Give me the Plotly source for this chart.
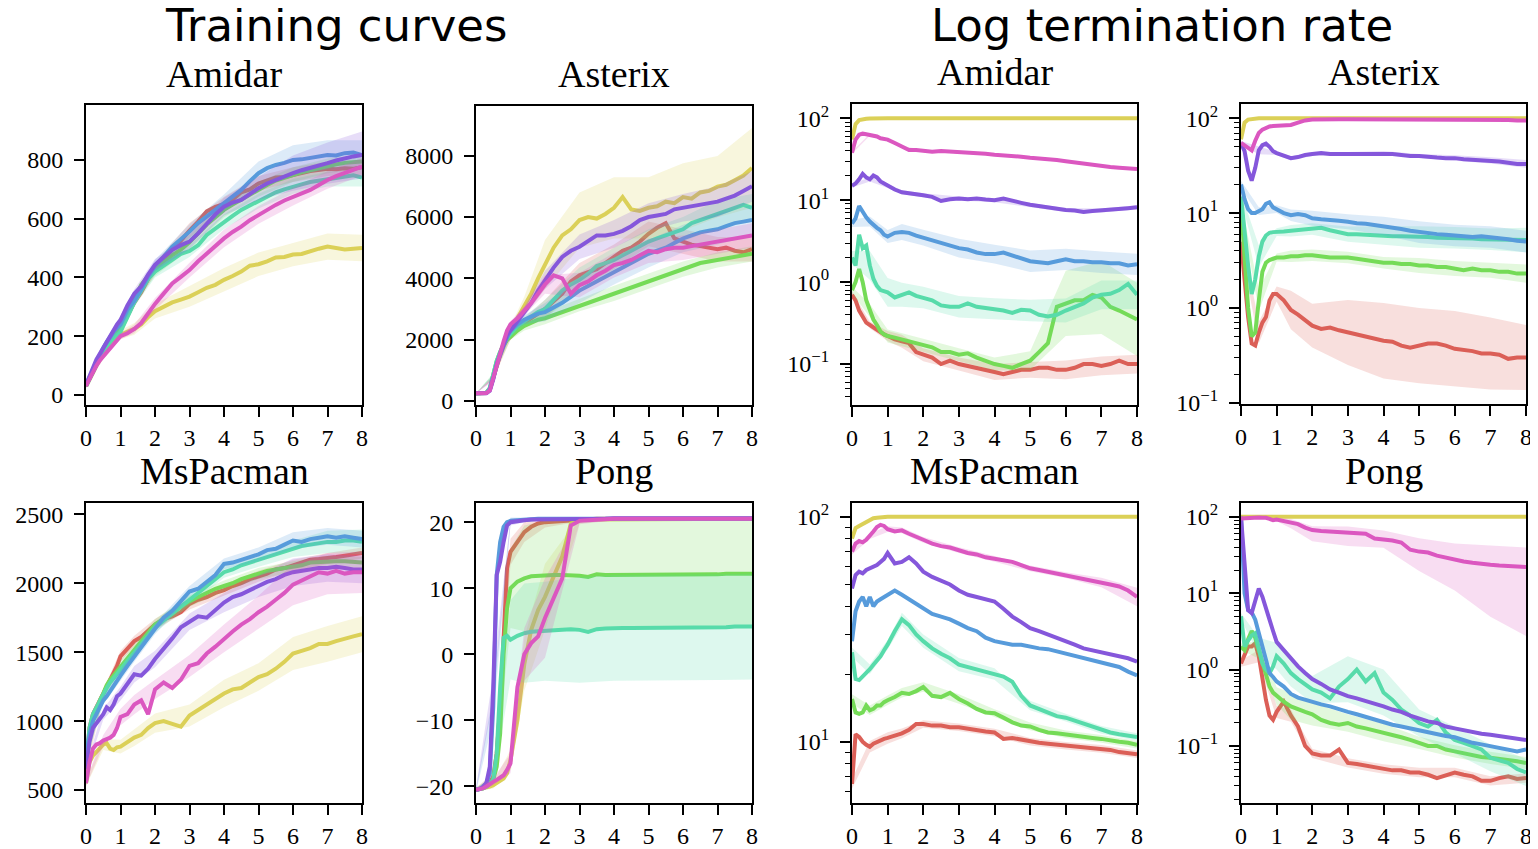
import colorsys
import plotly.graph_objects as go

# ---------------------------------------------------------------- data
X = [0, 0.1, 0.2, 0.3, 0.4, 0.5, 0.6, 0.7, 0.8, 0.9,
     1.0, 1.2, 1.4, 1.6, 1.8, 2.0, 2.25, 2.5, 2.75, 3.0,
     3.25, 3.5, 3.75, 4.0, 4.25, 4.5, 4.75, 5.0, 5.25, 5.5,
     5.75, 6.0, 6.25, 6.5, 6.75, 7.0, 7.25, 7.5, 7.75, 8.0]
XB = [0, 0.5, 1.0, 1.4, 2.0, 3.0, 4.0, 5.0, 6.0, 7.0, 8.0]   # band grid
X_TICKS = [0, 1, 2, 3, 4, 5, 6, 7, 8]
SERIES = ["red", "yellow", "green", "teal", "blue", "purple", "magenta"]

# Amidar – training curves
amidar_train_red = [30,55,80,105,130,150,165,180,195,205, 222,270,315,350,395,430,460,495,525,560, 590,625,640,650,665,690,700,720,730,740, 742,750,755,762,765,770,768,772,770,775]
amidar_train_yellow = [30,50,75,100,120,140,155,170,185,195, 205,215,225,240,265,285,300,315,325,335, 350,365,375,392,405,420,440,445,455,468, 470,478,480,490,498,505,500,495,498,500]
amidar_train_green = [30,55,80,105,130,150,170,185,200,210, 225,280,330,375,405,425,450,475,495,520, 550,580,605,630,648,665,682,700,715,730, 740,750,758,765,772,780,785,790,792,795]
amidar_train_teal = [30,55,80,105,128,148,165,182,195,205, 215,265,315,355,395,420,440,460,480,490, 510,545,568,590,610,630,645,660,675,690, 700,710,717,725,730,735,740,745,748,740]
amidar_train_blue = [35,60,90,115,140,160,180,200,215,228, 240,290,320,360,405,440,470,505,530,556, 585,607,630,652,675,698,728,755,772,783, 790,800,802,806,812,817,815,823,825,817]
amidar_train_purple = [35,65,95,120,140,160,180,205,225,240, 255,305,345,370,410,443,470,494,510,522, 550,584,615,641,655,664,685,704,720,732, 745,755,765,772,780,789,798,806,812,817]
amidar_train_magenta = [30,55,80,100,118,132,145,160,172,188, 200,210,225,245,280,310,345,380,402,425, 455,482,510,533,555,573,595,613,630,647, 662,675,688,698,715,732,745,755,768,777]
amidar_train_band_red = [5,10,15,15,20,25,25,25,25,25,25]
amidar_train_band_yellow = [5,10,15,20,25,35,40,40,40,45,45]
amidar_train_band_green = [5,10,20,20,20,25,25,25,25,25,25]
amidar_train_band_teal = [5,10,15,15,20,20,25,25,25,25,30]
amidar_train_band_blue = [5,10,15,15,20,25,30,40,50,50,50]
amidar_train_band_purple = [5,10,15,15,20,25,30,40,60,70,80]
amidar_train_band_magenta = [5,10,10,15,20,25,30,30,30,30,30]

# Asterix – training curves
asterix_train_red = [250,250,250,260,380,750,1200,1500,1800,2000, 2100,2350,2550,2700,2850,3000,3250,3500,3900,4100, 4200,4300,4500,4700,4900,5000,5200,5450,5650,5800, 5300,5200,5100,5050,5000,4950,5000,4900,4850,4950]
asterix_train_yellow = [250,250,250,260,380,780,1250,1550,1850,2100, 2300,2700,3100,3500,4000,4450,5000,5400,5600,5900, 6000,5950,6100,6300,6650,6250,6200,6300,6350,6500, 6450,6650,6600,6800,6850,6990,7050,7200,7350,7600]
asterix_train_green = [250,250,250,270,420,850,1300,1600,1850,2000, 2100,2300,2450,2550,2650,2700,2800,2900,3000,3130, 3200,3300,3400,3510,3600,3700,3800,3910,4000,4100, 4200,4300,4400,4500,4550,4600,4650,4700,4750,4800]
asterix_train_teal = [250,250,250,270,420,850,1300,1600,1850,2050, 2200,2450,2600,2750,2900,3000,3300,3600,3800,3950, 4150,4400,4500,4600,4750,4900,5050,5200,5300,5400, 5500,5600,5800,5900,6000,6100,6200,6300,6400,6300]
asterix_train_blue = [250,250,250,260,380,800,1250,1550,1850,2100, 2300,2500,2650,2750,2850,2900,3050,3200,3400,3600, 3750,3900,4050,4200,4350,4500,4650,4800,4900,5000, 5150,5300,5400,5500,5550,5600,5700,5800,5850,5900]
asterix_train_purple = [250,250,250,250,330,700,1200,1550,1850,2150, 2300,2600,2900,3200,3600,3950,4350,4700,4900,5030, 5200,5400,5400,5450,5550,5700,5900,6000,6050,6100, 6250,6300,6350,6400,6450,6500,6600,6700,6850,7000]
asterix_train_magenta = [250,250,250,260,350,750,1250,1600,1950,2300, 2500,2700,2950,3200,3500,3800,4100,4000,3500,3780, 3900,4100,4250,4430,4500,4600,4750,4900,4850,4950, 5000,5000,5050,5100,5150,5200,5250,5300,5350,5400]
asterix_train_band_red = [0,50,100,150,300,400,400,400,400,400,400]
asterix_train_band_yellow = [0,50,150,300,800,900,1000,1000,1100,1000,1300]
asterix_train_band_green = [0,50,100,150,200,200,250,250,250,250,250]
asterix_train_band_teal = [0,50,100,150,300,400,400,400,400,450,450]
asterix_train_band_blue = [0,50,100,150,300,400,400,450,450,500,500]
asterix_train_band_purple = [0,50,100,150,300,400,450,450,450,500,500]
asterix_train_band_magenta = [0,50,100,150,300,400,400,400,400,400,400]

# Amidar – log termination rate
amidar_log_red = [0.7,0.6,0.45,0.38,0.32,0.3,0.28,0.26,0.24,0.23, 0.22,0.2,0.19,0.18,0.14,0.13,0.12,0.1,0.11,0.1, 0.095,0.09,0.085,0.08,0.075,0.08,0.085,0.085,0.09,0.09, 0.085,0.085,0.09,0.1,0.1,0.095,0.1,0.11,0.1,0.1]
amidar_log_yellow = [55,85,95,98,99,99.5,100,100,100,100, 100,100,100,100,100,100,100,100,100,100, 100,100,100,100,100,100,100,100,100,100, 100,100,100,100,100,100,100,100,100,100]
amidar_log_green = [0.8,1.0,1.45,1.0,0.6,0.45,0.35,0.3,0.25,0.23, 0.22,0.21,0.2,0.19,0.18,0.17,0.16,0.14,0.14,0.13, 0.135,0.12,0.11,0.1,0.095,0.09,0.1,0.11,0.14,0.18, 0.5,0.55,0.6,0.6,0.7,0.65,0.5,0.45,0.4,0.35]
amidar_log_teal = [2.0,1.6,3.8,2.6,2.8,1.6,1.1,0.9,0.8,0.78, 0.75,0.65,0.7,0.75,0.68,0.65,0.6,0.52,0.5,0.5, 0.55,0.5,0.48,0.47,0.45,0.42,0.46,0.45,0.4,0.38, 0.4,0.45,0.5,0.55,0.65,0.7,0.72,0.8,0.95,0.7]
amidar_log_blue = [5.2,6.0,8.5,7.2,6.2,5.5,5.0,4.6,4.3,3.8, 3.6,4.0,4.1,4.0,3.7,3.5,3.2,3.0,2.8,2.6, 2.5,2.3,2.2,2.2,2.3,2.1,1.95,1.8,1.75,1.7, 1.8,1.9,1.8,1.8,1.75,1.75,1.7,1.7,1.6,1.65]
amidar_log_purple = [15,16,18,21,19,18,20,19,17,16, 15,13.5,12.5,12.2,12,11.5,11,9.8,10.3,10.5, 10.3,10.5,10.2,10,10.5,9.8,9.3,8.8,8.5,8.2, 7.8,7.6,7.5,7.2,7.4,7.5,7.6,7.8,8.0,8.2]
amidar_log_magenta = [38,55,63,65,64,63,62,60,57,56, 55,50,45,41,41,40,39,40,39.5,39, 38.5,38,37,36,35.5,34.5,34,33,32.5,32, 31,30,29,28,27,26,25.5,25,24.5,24]
amidar_log_band_red = [1.1,1.1,1.15,1.2,1.2,1.2,1.25,1.25,1.3,1.3,1.3]
amidar_log_band_green = [1.1,1.2,1.2,1.2,1.2,1.2,1.2,1.3,2.5,2.8,2.8]
amidar_log_band_teal = [1.2,1.5,1.5,1.4,1.35,1.35,1.35,1.35,1.4,1.5,1.5]
amidar_log_band_blue = [1.1,1.15,1.2,1.25,1.25,1.3,1.3,1.35,1.35,1.35,1.35]
amidar_log_band_purple = [1.05,1.06,1.06,1.06,1.06,1.06,1.06,1.06,1.06,1.06,1.06]
amidar_log_band_magenta = [1.03,1.03,1.03,1.03,1.03,1.03,1.03,1.03,1.03,1.03,1.03]

# Asterix – log termination rate
asterix_log_red = [5,2.0,0.8,0.42,0.4,0.55,0.7,0.8,1.2,1.4, 1.4,1.2,0.95,0.85,0.75,0.65,0.6,0.62,0.58,0.55, 0.52,0.5,0.47,0.45,0.44,0.4,0.38,0.4,0.42,0.42, 0.4,0.37,0.36,0.35,0.33,0.33,0.32,0.29,0.3,0.3]
asterix_log_yellow = [60,90,97,98.5,99,100,100,100,100,100, 100,100,100,100,100,100,100,100,100,100, 100,100,100,100,100,100,100,100,100,100, 100,100,100,100,100,100,100,100,100,100]
asterix_log_green = [12,3.0,1.0,0.5,0.55,1.2,2.4,3.0,3.2,3.3, 3.4,3.4,3.5,3.5,3.6,3.6,3.5,3.4,3.4,3.4, 3.3,3.2,3.1,3.0,3.0,2.9,2.9,2.8,2.8,2.7, 2.7,2.6,2.5,2.6,2.5,2.5,2.4,2.4,2.3,2.3]
asterix_log_teal = [15,6,2.8,1.4,2.0,3.5,5.0,5.8,6.2,6.3, 6.3,6.4,6.5,6.6,6.7,6.8,7.0,6.6,6.3,6.0, 6.0,5.9,5.8,5.8,5.7,5.7,5.7,5.6,5.6,5.5, 5.5,5.5,5.4,5.4,5.3,5.3,5.3,5.2,5.2,5.2]
asterix_log_blue = [20,14,11,10,10,10.5,11,12.5,13,11.5, 11,10,9.5,9.8,9.5,8.8,8.6,8.5,8.3,8.1, 7.8,7.7,7.5,7.3,7.0,6.8,6.5,6.3,6.1,6.0, 5.9,5.8,5.7,5.6,5.7,5.6,5.4,5.3,5.1,5.0]
asterix_log_purple = [55,45,28,22,30,46,52,54,50,45, 43,40,38,39,41,42,43,42,42,42, 43,42,42,43,42,41,40,40,39,38.5, 38,38,37,36.5,36,36,35,34,33,33]
asterix_log_magenta = [55,52,48,46,58,70,76,80,82,83, 83,84,85,90,95,97,98,98,98,98, 98,98,98,98,98,98,98,98,98,98, 98,98,98,97,97,97,96,96,95,95]
asterix_log_band_red = [1.2,1.3,1.2,1.6,1.7,2.2,2.5,2.5,2.5,2.4,2.2]
asterix_log_band_green = [1.1,1.3,1.1,1.15,1.15,1.15,1.15,1.2,1.2,1.2,1.25]
asterix_log_band_teal = [1.1,1.3,1.1,1.15,1.15,1.2,1.25,1.3,1.3,1.3,1.35]
asterix_log_band_blue = [1.1,1.1,1.1,1.15,1.2,1.2,1.25,1.3,1.3,1.3,1.3]
asterix_log_band_purple = [1.05,1.1,1.05,1.05,1.05,1.05,1.05,1.05,1.07,1.08,1.1]

# MsPacman – training curves
mspacman_train_red = [650,950,1050,1100,1150,1200,1250,1300,1350,1400, 1470,1520,1580,1610,1660,1700,1740,1760,1790,1850, 1880,1900,1930,1950,1980,2000,2030,2050,2070,2100, 2110,2130,2150,2170,2175,2180,2190,2200,2210,2220]
mspacman_train_yellow = [550,700,750,780,810,830,840,800,790,810, 815,850,880,900,950,985,1000,980,960,1040, 1080,1120,1160,1200,1230,1240,1280,1320,1340,1380, 1430,1490,1510,1530,1560,1560,1580,1600,1615,1630]
mspacman_train_green = [700,900,1000,1080,1150,1200,1260,1300,1330,1370, 1400,1460,1520,1570,1640,1700,1740,1780,1830,1870, 1900,1930,1960,1980,2000,2030,2050,2070,2090,2100, 2110,2120,2130,2150,2155,2160,2160,2160,2155,2150]
mspacman_train_teal = [700,950,1050,1100,1150,1200,1240,1280,1310,1350, 1380,1430,1500,1560,1620,1680,1730,1780,1830,1880, 1930,1980,2030,2080,2100,2130,2150,2170,2190,2210, 2230,2250,2270,2280,2290,2300,2300,2310,2310,2300]
mspacman_train_blue = [750,900,1000,1050,1100,1150,1180,1220,1250,1300, 1330,1400,1470,1530,1600,1670,1750,1800,1870,1940, 1960,2010,2060,2140,2150,2170,2190,2210,2240,2250, 2280,2310,2300,2320,2330,2340,2330,2340,2330,2320]
mspacman_train_purple = [650,850,950,980,1020,1050,1100,1080,1120,1180, 1200,1270,1340,1330,1380,1450,1520,1600,1680,1720, 1760,1750,1810,1860,1900,1920,1950,1980,2010,2030, 2060,2080,2090,2100,2110,2110,2120,2110,2100,2100]
mspacman_train_magenta = [550,700,800,830,840,860,870,880,900,950, 1030,1050,1120,1150,1050,1230,1280,1240,1300,1400, 1420,1490,1540,1600,1650,1700,1740,1790,1830,1880, 1930,1990,2020,2050,2080,2070,2090,2070,2080,2080]
mspacman_train_band_red = [20,30,40,40,40,40,40,40,40,40,40]
mspacman_train_band_yellow = [20,40,50,60,70,80,100,100,120,130,130]
mspacman_train_band_green = [20,30,40,40,40,40,40,40,40,40,40]
mspacman_train_band_teal = [20,30,40,40,40,40,40,50,60,80,90]
mspacman_train_band_blue = [20,30,40,40,40,40,40,50,60,60,60]
mspacman_train_band_purple = [20,40,50,60,60,60,70,80,100,100,100]
mspacman_train_band_magenta = [20,40,60,70,70,80,100,120,150,150,150]

# Pong – training curves
pong_train_red = [-20.5,-20.4,-20.2,-20.0,-19.5,-18.5,-15,-8,2,13, 15.5,17,18.5,19.3,19.8,20,20.1,20.2,20.3,20.4, 20.4,20.5,20.5,20.5,20.5,20.5,20.5,20.5,20.5,20.5, 20.5,20.5,20.5,20.5,20.5,20.5,20.5,20.5,20.5,20.5]
pong_train_yellow = [-20.5,-20.4,-20.3,-20.2,-20.0,-19.8,-19.5,-19.2,-18.8,-18, -16,-10,-1.5,3.7,6.7,8.7,11.8,14.8,19.8,20.3, 20.4,20.4,20.5,20.5,20.5,20.5,20.5,20.5,20.5,20.5, 20.5,20.5,20.5,20.5,20.5,20.5,20.5,20.5,20.5,20.5]
pong_train_green = [-20.5,-20.4,-20.3,-20.0,-19.6,-19.0,-17,-12,0,7, 10,11,11.5,11.8,11.9,12,12,12,12,11.9, 11.7,12.1,12,12,12,12,12,12,12.1,12.1, 12.1,12.1,12.1,12.1,12.1,12.1,12.2,12.2,12.2,12.2]
pong_train_teal = [-20.5,-20.4,-20.3,-20.0,-19.6,-19.0,-15,-5,2.5,2.8, 2.2,2.8,3.2,3.4,3.5,3.5,3.6,3.7,3.8,3.7, 3.4,3.8,3.9,4.0,4.0,4.0,4.0,4.0,4.0,4.0, 4.1,4.1,4.1,4.1,4.1,4.1,4.1,4.2,4.2,4.2]
pong_train_blue = [-20.5,-20.4,-20.0,-19.5,-18,-8,12,17,19.3,20, 20.2,20.3,20.4,20.4,20.5,20.5,20.5,20.5,20.5,20.5, 20.5,20.5,20.5,20.5,20.5,20.5,20.5,20.5,20.5,20.5, 20.5,20.5,20.5,20.5,20.5,20.5,20.5,20.5,20.5,20.5]
pong_train_purple = [-20.5,-20.4,-20.1,-19.5,-17,-5,12,14,17,19.5, 20,20.2,20.3,20.4,20.4,20.5,20.5,20.5,20.5,20.5, 20.5,20.5,20.5,20.6,20.6,20.6,20.6,20.6,20.6,20.6, 20.6,20.6,20.6,20.6,20.6,20.6,20.6,20.6,20.6,20.6]
pong_train_magenta = [-20.5,-20.4,-20.3,-20.0,-19.6,-19.3,-19.0,-18.7,-18.3,-17.5, -16.5,-5,0,1.7,2.7,5.5,8.5,11.5,19.5,20.2, 20.3,20.4,20.5,20.5,20.5,20.5,20.5,20.5,20.5,20.5, 20.5,20.5,20.5,20.5,20.5,20.5,20.5,20.5,20.5,20.5]
pong_train_band_red = [0.3,0.5,2,1.5,0.8,0.3,0.2,0.2,0.2,0.2,0.2]
pong_train_band_yellow = [0.3,0.5,1.5,4,5,0.5,0.2,0.2,0.2,0.2,0.2]
pong_train_band_green = [0.3,0.5,6,8,8.2,8.2,8.2,8.2,8.2,8.2,8.2]
pong_train_band_teal = [0.3,0.5,6,7.5,7.5,8,8,8,8,8,8]
pong_train_band_blue = [0.3,2,0.5,0.3,0.2,0.2,0.2,0.2,0.2,0.2,0.2]
pong_train_band_purple = [0.3,2,0.5,0.3,0.2,0.2,0.2,0.2,0.2,0.2,0.2]
pong_train_band_magenta = [0.3,0.5,1.5,4,6,0.5,0.2,0.2,0.2,0.2,0.2]

# MsPacman – log termination rate
mspacman_log_red = [6.5,10.8,10.5,10,9.7,9.5,9.8,10,10.2,10.3, 10.4,10.6,10.9,11.3,12,12,11.8,11.8,11.6,11.6, 11.4,11.2,11.1,11,10.3,10.4,10.2,10,9.9,9.8, 9.7,9.6,9.5,9.4,9.3,9.3,9.2,9.0,8.9,8.8]
mspacman_log_yellow = [80,89,91,93,95,97,98.5,99,99.5,100, 100,100,100,100,100,100,100,100,100,100, 100,100,100,100,100,100,100,100,100,100, 100,100,100,100,100,100,100,100,100,100]
mspacman_log_green = [15.5,13.5,13.3,13.5,14.5,13.8,14,14.5,14.5,15, 15.3,15.8,16.5,16.3,16.8,17.5,16,15.8,16.5,15.5, 14.8,14,13.5,13.4,12.8,12.2,11.8,11.7,11.3,11.0, 10.9,10.8,10.6,10.5,10.4,10.3,10.2,10.0,9.9,9.7]
mspacman_log_teal = [25,19,18.8,19.5,20,21,22,23,24,25.5, 27,31,35,33,30,28,26,24.6,23.5,22, 21.5,21,20.5,20,19.5,18.5,16,14.5,14,13.5, 13,12.8,12.4,12,11.6,11.3,11,10.8,10.6,10.5]
mspacman_log_blue = [28,38,42,44,40,44,40,42,43,44, 45,47,45,43,41,39,37,36,35,33.5, 32,31,29,28,27.5,27,27,26.5,26,25.8, 25.2,24.6,24,23.5,23,22.5,22,21.5,20.5,19.7]
mspacman_log_purple = [48,55,57,56,58,59,60,61,63,65, 69,62,63,66,62,57,54,52,50,47, 45,44,43,42,39,36,34,32,31,30, 29,28,27,26,25.5,25,24.5,24,23.5,22.7]
mspacman_log_magenta = [70,76,78,77,79,82,86,90,92,91, 88,86,87,84,81,79,76,74,73,71, 69,68,66,65,64,63,61,59,58,57, 56,55,54,53,52,51,50,49,47,44]
mspacman_log_band_red = [1.05,1.06,1.06,1.05,1.04,1.04,1.04,1.04,1.04,1.04,1.04]
mspacman_log_band_green = [1.05,1.05,1.05,1.05,1.05,1.05,1.04,1.04,1.04,1.04,1.04]
mspacman_log_band_teal = [1.05,1.05,1.05,1.07,1.07,1.07,1.06,1.05,1.04,1.04,1.04]
mspacman_log_band_magenta = [1.03,1.03,1.03,1.03,1.03,1.03,1.03,1.03,1.03,1.05,1.1]

# Pong – log termination rate
pong_log_red = [1.2,1.5,2,2,2.2,1.5,0.7,0.4,0.25,0.22, 0.28,0.38,0.25,0.18,0.1,0.08,0.075,0.075,0.09,0.06, 0.058,0.055,0.052,0.05,0.048,0.048,0.045,0.045,0.042,0.038, 0.042,0.045,0.042,0.04,0.035,0.035,0.038,0.04,0.037,0.038]
pong_log_yellow = [100,100,100,100,100,100,100,100,100,100, 100,100,100,100,100,100,100,100,100,100, 100,100,100,100,100,100,100,100,100,100, 100,100,100,100,100,100,100,100,100,100]
pong_log_green = [2,1.8,2.5,3.2,2.6,1.8,1.2,0.8,0.6,0.5, 0.45,0.38,0.33,0.3,0.28,0.26,0.22,0.2,0.19,0.2, 0.18,0.17,0.16,0.15,0.14,0.13,0.12,0.11,0.1,0.1, 0.09,0.085,0.08,0.075,0.072,0.07,0.068,0.065,0.063,0.06]
pong_log_teal = [5,2,2.4,2.8,3,2,1.2,1.0,0.9,1.1, 1.5,1.2,0.9,0.75,0.65,0.55,0.5,0.42,0.6,0.75, 1.0,0.7,0.9,0.5,0.4,0.3,0.25,0.2,0.18,0.22, 0.15,0.12,0.11,0.1,0.09,0.07,0.065,0.06,0.05,0.045]
pong_log_blue = [100,10,6,5.6,4.5,3,2,1.3,0.9,0.8, 0.7,0.6,0.48,0.43,0.4,0.38,0.35,0.33,0.3,0.28, 0.26,0.24,0.22,0.2,0.19,0.18,0.17,0.16,0.15,0.14, 0.135,0.13,0.12,0.11,0.105,0.1,0.095,0.09,0.085,0.09]
pong_log_purple = [100,20,6,5.5,8,11.5,9,6,4.5,3.2, 2.3,1.8,1.4,1.1,0.9,0.75,0.65,0.55,0.5,0.45, 0.42,0.39,0.36,0.33,0.3,0.28,0.25,0.23,0.21,0.2, 0.18,0.17,0.16,0.15,0.145,0.14,0.135,0.13,0.125,0.12]
pong_log_magenta = [95,96,97,98,98,98,97,97,94,90, 92,88,85,80,72,67,65,64,63,62, 62,60,52,51,49,46,37,35,34,31, 29,27,26,25,24,23.5,23,22.5,22.2,22]
pong_log_band_red = [1.1,1.2,1.2,1.2,1.15,1.15,1.15,1.15,1.15,1.15,1.15]
pong_log_band_green = [1.1,1.3,1.3,1.5,1.4,1.3,1.3,1.2,1.2,1.2,1.2]
pong_log_band_teal = [1.1,1.3,1.5,1.5,1.5,2,2,1.5,1.5,1.5,1.5]
pong_log_band_magenta_lo = [1.02,1.02,1.05,1.2,1.4,1.5,1.3,1.8,2.5,4.8,8]
pong_log_band_magenta_hi = [1.02,1.02,1.05,1.1,1.12,1.2,1.3,1.5,1.65,1.8,1.8]

# ---------------------------------------------------------------- style / layout
# The page body has an 8px default margin, so the figure is drawn 8px smaller
# and every screen position below is shifted by that offset.
OFF = 8
W, H = 1538 - OFF, 849 - OFF

def px(x):
    return (x - OFF) / W

def py(y):
    return 1 - (y - OFF) / H

COLORS = {}
for i, name in enumerate(SERIES):
    h = (i / 7 + 0.01) % 1
    r, g, b = colorsys.hls_to_rgb(h, 0.6, 0.65)
    COLORS[name] = (int(round(r * 255)), int(round(g * 255)), int(round(b * 255)))

G = globals()

def collect(prefix):
    means = [G[f"{prefix}_{s}"] for s in SERIES]
    bands = []
    for s in SERIES:
        if f"{prefix}_band_{s}" in G:
            bands.append(G[f"{prefix}_band_{s}"])
        elif f"{prefix}_band_{s}_lo" in G:
            bands.append((G[f"{prefix}_band_{s}_lo"], G[f"{prefix}_band_{s}_hi"]))
        else:
            bands.append(None)
    return means, bands

def minor_log(lo_exp, hi_exp):
    vals = []
    for e in range(lo_exp, hi_exp + 1):
        for k in range(2, 10):
            vals.append(k * 10 ** e)
    return vals

LOG_TEXT = {0.1: "10<sup>−1</sup>", 1: "10<sup>0</sup>", 10: "10<sup>1</sup>", 100: "10<sup>2</sup>"}

PANELS = [
    dict(prefix="amidar_train", title="Amidar", box=(86, 362, 105, 405), log=False,
         yrange=[-34, 987], yticks=[0, 200, 400, 600, 800], title_y=74),
    dict(prefix="asterix_train", title="Asterix", box=(476, 752, 106, 405), log=False,
         yrange=[-130, 9620], yticks=[0, 2000, 4000, 6000, 8000], title_y=74),
    dict(prefix="amidar_log", title="Amidar", box=(852, 1137, 104, 405), log=True,
         yrange=[-1.50, 2.175], yticks=[0.1, 1, 10, 100], minor=minor_log(-2, 1), title_y=72),
    dict(prefix="asterix_log", title="Asterix", box=(1241, 1526, 104, 404), log=True,
         yrange=[-1.014, 2.151], yticks=[0.1, 1, 10, 100], minor=minor_log(-1, 1), title_y=72),
    dict(prefix="mspacman_train", title="MsPacman", box=(86, 362, 503, 803), log=False,
         yrange=[406, 2582], yticks=[500, 1000, 1500, 2000, 2500], title_y=471),
    dict(prefix="pong_train", title="Pong", box=(476, 752, 503, 803), log=False,
         yrange=[-22.5, 22.9], yticks=[-20, -10, 0, 10, 20], title_y=471),
    dict(prefix="mspacman_log", title="MsPacman", box=(852, 1137, 503, 803), log=True,
         yrange=[0.728, 2.061], yticks=[10, 100], minor=minor_log(0, 1), title_y=471),
    dict(prefix="pong_log", title="Pong", box=(1241, 1526, 503, 803), log=True,
         yrange=[-1.746, 2.18], yticks=[0.1, 1, 10, 100], minor=minor_log(-2, 1), title_y=471),
]

TICK_FONT = dict(family="Liberation Serif, DejaVu Serif, serif", size=24, color="black")
TITLE_FONT = dict(family="Liberation Serif, DejaVu Serif, serif", size=38, color="black")

def fmt_lin(v):
    return ("−" + str(-v)) if v < 0 else str(v)

fig = go.Figure()
layout = dict(width=W, height=H, margin=dict(l=0, r=0, t=0, b=0, autoexpand=False),
              paper_bgcolor="white", plot_bgcolor="white", showlegend=False,
              annotations=[])

bidx = [X.index(b) for b in XB]

for p_i, p in enumerate(PANELS, start=1):
    xa = "x" if p_i == 1 else f"x{p_i}"
    ya = "y" if p_i == 1 else f"y{p_i}"
    means, bands = collect(p["prefix"])
    for s, mean, band in zip(SERIES, means, bands):
        r, g, b = COLORS[s]
        if band is not None:
            lo_s, hi_s = band if isinstance(band, tuple) else (band, band)
            mb = [mean[i] for i in bidx]
            if p["log"]:
                lo = [m / f for m, f in zip(mb, lo_s)]
                hi = [m * f for m, f in zip(mb, hi_s)]
            else:
                lo = [m - d for m, d in zip(mb, lo_s)]
                hi = [m + d for m, d in zip(mb, hi_s)]
            fig.add_trace(go.Scatter(x=XB + XB[::-1], y=hi + lo[::-1], xaxis=xa, yaxis=ya,
                                     mode="lines", fill="toself", line=dict(width=0),
                                     fillcolor=f"rgba({r},{g},{b},0.2)", hoverinfo="skip"))
        fig.add_trace(go.Scatter(x=X, y=mean, xaxis=xa, yaxis=ya, mode="lines",
                                 line=dict(color=f"rgb({r},{g},{b})", width=4), name=s))

    x0, x1, y0, y1 = p["box"]
    common = dict(showline=True, linecolor="black", linewidth=2, mirror=True,
                  ticks="outside", ticklen=10, tickwidth=1.8, tickcolor="black",
                  showgrid=False, zeroline=False, tickfont=TICK_FONT, automargin=False)
    xkey = "xaxis" if p_i == 1 else f"xaxis{p_i}"
    ykey = "yaxis" if p_i == 1 else f"yaxis{p_i}"
    layout[xkey] = dict(common, domain=[px(x0), px(x1)], anchor=ya, range=[0, 8],
                        tickmode="array", tickvals=X_TICKS, ticktext=[str(t) for t in X_TICKS],
                        ticklabelstandoff=0)
    if p["log"]:
        layout[ykey] = dict(common, domain=[py(y1), py(y0)], anchor=xa, type="log",
                            range=p["yrange"], tickmode="array", tickvals=p["yticks"],
                            ticktext=[LOG_TEXT[v] for v in p["yticks"]], ticklabelstandoff=6,
                            minor=dict(tickmode="array", tickvals=p["minor"], ticks="outside",
                                       ticklen=5, tickwidth=1.2, tickcolor="black", showgrid=False))
    else:
        layout[ykey] = dict(common, domain=[py(y1), py(y0)], anchor=xa,
                            range=p["yrange"], tickmode="array", tickvals=p["yticks"],
                            ticktext=[fmt_lin(v) for v in p["yticks"]], ticklabelstandoff=6)
    layout["annotations"].append(dict(text=p["title"], x=px((x0 + x1) / 2), y=py(p["title_y"]),
                                      xref="paper", yref="paper", xanchor="center", yanchor="middle",
                                      showarrow=False, font=TITLE_FONT))

BIG_FONT = dict(family="DejaVu Sans, sans-serif", size=45, color="black")
layout["annotations"].append(dict(text="Training curves", x=px(336), y=py(25), xref="paper",
                                  yref="paper", xanchor="center", yanchor="middle",
                                  showarrow=False, font=BIG_FONT))
layout["annotations"].append(dict(text="Log termination rate", x=px(1162), y=py(25), xref="paper",
                                  yref="paper", xanchor="center", yanchor="middle",
                                  showarrow=False, font=BIG_FONT))

fig.update_layout(**layout)
fig.write_html("out.html")
